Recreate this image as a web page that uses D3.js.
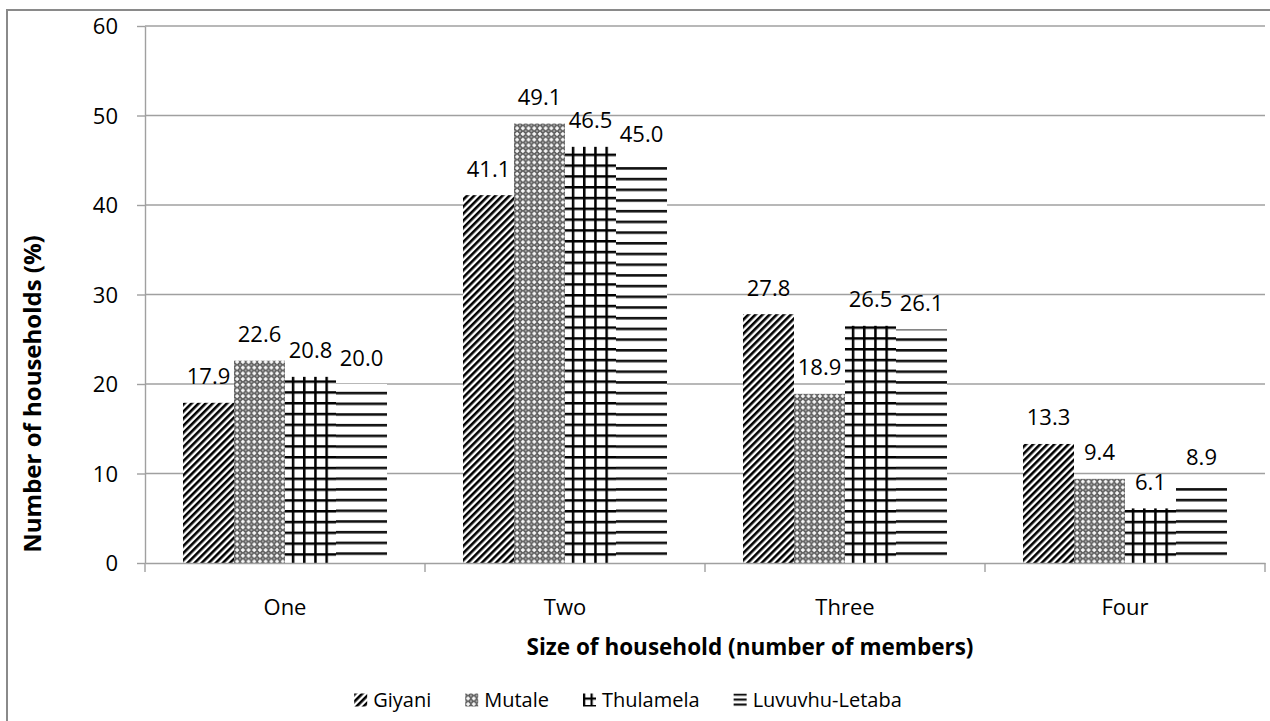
<!DOCTYPE html>
<html>
<head>
<meta charset="utf-8">
<script src="https://cdn.jsdelivr.net/npm/d3@7"></script>
<style>
  html, body { margin: 0; padding: 0; background: #ffffff; }
  svg { display: block; font-family: "Open Sans", "Noto Sans", sans-serif; }
</style>
</head>
<body>
<svg id="chart" width="1270" height="721"></svg>
<script>
// Household size distribution by municipality
const categories = ["One", "Two", "Three", "Four"];
const seriesNames = ["Giyani", "Mutale", "Thulamela", "Luvuvhu-Letaba"];
const giyani    = [17.9, 41.1, 27.8, 13.3];
const mutale    = [22.6, 49.1, 18.9, 9.4];
const thulamela = [20.8, 46.5, 26.5, 6.1];
const luvuvhu   = [20.0, 45.0, 26.1, 8.9];
const yTicks = [0, 10, 20, 30, 40, 50, 60];
const xTitle = "Size of household (number of members)";
const yTitle = "Number of households (%)";

const seriesValues = [giyani, mutale, thulamela, luvuvhu];
const seriesKeys = ["giyani", "mutale", "thulamela", "luvuvhu"];

const svg = d3.select("#chart");
const W = 1270, H = 721;
const plot = { left: 145, right: 1265, top: 26, bottom: 563 };
const axisColor = "#a0a0a0";

const x0 = d3.scaleBand().domain(categories)
  .range([plot.left, plot.right])
  .paddingInner(0.2714).paddingOuter(0.1357);
const x1 = d3.scaleBand().domain(seriesNames).range([0, x0.bandwidth()]);
const y = d3.scaleLinear().domain([0, 60]).range([plot.bottom, plot.top]);

const defs = svg.append("defs");

// Wide upward diagonal stripes
const pg = defs.append("pattern").attr("id", "pat-giyani")
  .attr("patternUnits", "userSpaceOnUse").attr("width", 5).attr("height", 5)
  .attr("patternTransform", "rotate(45)");
pg.append("rect").attr("width", 5).attr("height", 5).attr("fill", "#fff");
pg.append("rect").attr("width", 2.6).attr("height", 5).attr("fill", "#000");

// Dotted check with white crosses
const pm = defs.append("pattern").attr("id", "pat-mutale")
  .attr("patternUnits", "userSpaceOnUse").attr("width", 5.7).attr("height", 5.7);
pm.append("rect").attr("width", 5.7).attr("height", 5.7).attr("fill", "#606060");
pm.append("rect").attr("x", 2.1).attr("y", 0.9).attr("width", 1.5).attr("height", 3.9).attr("fill", "#fff");
pm.append("rect").attr("x", 0.9).attr("y", 2.1).attr("width", 3.9).attr("height", 1.5).attr("fill", "#fff");
[[0, 0], [5.7, 0], [0, 5.7], [5.7, 5.7]].forEach(([cx, cy]) =>
  pm.append("circle").attr("cx", cx).attr("cy", cy).attr("r", 0.9).attr("fill", "#c0c0c0"));

// Horizontal lines
function linePattern(id, y0pos, period, lw) {
  const p = defs.append("pattern").attr("id", id)
    .attr("patternUnits", "userSpaceOnUse").attr("width", 10).attr("height", period)
    .attr("y", y0pos);
  p.append("rect").attr("width", 10).attr("height", period).attr("fill", "#fff");
  p.append("rect").attr("width", 10).attr("height", lw).attr("fill", "#111");
  return p;
}
linePattern("pat-luvuvhu", plot.bottom - 10.7, 10.7, 2.6);

// Large grid, anchored to the left edge of each bar
function gridPattern(id, x0pos, y0pos, px, py, lw) {
  const p = defs.append("pattern").attr("id", id)
    .attr("patternUnits", "userSpaceOnUse").attr("width", px).attr("height", py)
    .attr("x", x0pos).attr("y", y0pos);
  p.append("rect").attr("width", px).attr("height", py).attr("fill", "#fff");
  p.append("rect").attr("width", lw).attr("height", py).attr("fill", "#000");
  p.append("rect").attr("width", px).attr("height", lw).attr("fill", "#000");
  return p;
}

function fillFor(si, ci) {
  if (si === 2) return `url(#pat-thulamela-${ci})`;
  return `url(#pat-${seriesKeys[si]})`;
}

categories.forEach((c, ci) => {
  gridPattern(`pat-thulamela-${ci}`, x0(c) + x1(seriesNames[2]) + 3, plot.bottom - 9.8, 11.2, 10.8, 2.5);
});

// Outer frame
svg.append("rect").attr("x", 7).attr("y", 10)
  .attr("width", W + 10).attr("height", H + 10)
  .attr("fill", "none").attr("stroke", "#8a8a8a").attr("stroke-width", 2);

// Gridlines
svg.append("g").selectAll("line").data(yTicks.filter(t => t > 0)).join("line")
  .attr("x1", plot.left).attr("x2", plot.right)
  .attr("y1", d => y(d)).attr("y2", d => y(d))
  .attr("stroke", axisColor).attr("stroke-width", 1.4);

// Bars
const groups = svg.append("g").selectAll("g").data(categories).join("g")
  .attr("transform", c => `translate(${x0(c)},0)`);
groups.each(function (c, ci) {
  const g = d3.select(this);
  seriesNames.forEach((s, si) => {
    const v = seriesValues[si][ci];
    g.append("rect")
      .attr("x", x1(s)).attr("y", y(v))
      .attr("width", x1.bandwidth()).attr("height", y(0) - y(v))
      .attr("fill", fillFor(si, ci));
  });
});

// Value labels
groups.each(function (c, ci) {
  const g = d3.select(this);
  seriesNames.forEach((s, si) => {
    const v = seriesValues[si][ci];
    g.append("text")
      .attr("x", x1(s) + x1.bandwidth() / 2).attr("y", y(v) - 18.5)
      .attr("text-anchor", "middle").attr("font-size", 22).attr("fill", "#000")
      .text(v.toFixed(1));
  });
});

// Y axis
const yAxis = svg.append("g").attr("transform", `translate(${plot.left},0)`)
  .call(d3.axisLeft(y).tickValues(yTicks).tickSizeInner(8).tickSizeOuter(0).tickPadding(19));
yAxis.selectAll("path, line").attr("stroke", axisColor).attr("stroke-width", 1.4);
yAxis.selectAll("text").attr("font-size", 22).attr("fill", "#000")
  .attr("font-family", "'Open Sans', sans-serif").attr("dy", "0.36em");

// X axis with ticks between categories
const xAxis = svg.append("g").attr("transform", `translate(0,${plot.bottom})`)
  .call(d3.axisBottom(x0).tickSize(0).tickPadding(36));
xAxis.select("path").attr("stroke", axisColor).attr("stroke-width", 1.4);
xAxis.selectAll("text").attr("font-size", 22).attr("fill", "#000")
  .attr("font-family", "'Open Sans', sans-serif");
const half = (x0.step() - x0.bandwidth()) / 2;
const bounds = categories.map(c => x0(c) - half).concat([x0(categories[3]) + x0.bandwidth() + half]);
svg.append("g").selectAll("line").data(bounds).join("line")
  .attr("x1", d => d).attr("x2", d => d)
  .attr("y1", plot.bottom).attr("y2", plot.bottom + 9)
  .attr("stroke", axisColor).attr("stroke-width", 1.4);

// Axis titles
svg.append("text").attr("x", 750).attr("y", 655)
  .attr("text-anchor", "middle").attr("font-size", 22.5).attr("font-weight", 700)
  .text(xTitle);
svg.append("text")
  .attr("transform", `translate(41,394) rotate(-90)`)
  .attr("text-anchor", "middle").attr("font-size", 24).attr("font-weight", 700)
  .text(yTitle);

// Legend
const legend = svg.append("g");
const sw = 13, textGap = 19, itemGap = 34, legendY = 707;
const items = seriesNames.map((s, si) => {
  const g = legend.append("g");
  const t = g.append("text").attr("x", textGap).attr("y", 0)
    .attr("font-size", 20).attr("fill", "#000").text(s);
  return { g, si, w: textGap + t.node().getComputedTextLength() };
});
const total = d3.sum(items, d => d.w) + itemGap * (items.length - 1);
let cx = 628 - total / 2;
items.forEach(it => {
  const top = legendY - 13.5;
  let fill = `url(#pat-${seriesKeys[it.si]})`;
  if (it.si === 2) {
    gridPattern("pat-thulamela-legend", cx + 2, top + 2, 7.5, 7.5, 2.2);
    fill = "url(#pat-thulamela-legend)";
  } else if (it.si === 3) {
    linePattern("pat-luvuvhu-legend", top + 3, 5, 2.2);
    fill = "url(#pat-luvuvhu-legend)";
  }
  it.g.attr("transform", `translate(${cx},${legendY})`);
  it.g.insert("rect", "text").attr("x", 0).attr("y", top - legendY)
    .attr("width", sw).attr("height", sw).attr("fill", fill);
  cx += it.w + itemGap;
});
</script>
</body>
</html>
